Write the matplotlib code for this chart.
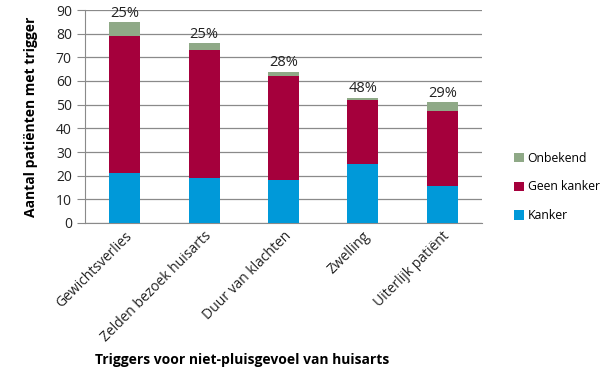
import numpy as np
import matplotlib
matplotlib.use('Agg')
import matplotlib.pyplot as plt

plt.rcParams['font.family'] = ['Open Sans', 'DejaVu Sans']

triggers = ['Gewichtsverlies', 'Zelden bezoek huisarts', 'Duur van klachten', 'Zwelling', 'Uiterlijk patiënt']
kanker = [21, 19, 18, 25, 15.5]
geen_kanker = [58, 54, 44, 27, 32]
onbekend = [6, 3, 2, 1, 3.5]
pct_labels = ['25%', '25%', '28%', '48%', '29%']

c_kanker = '#0099d9'
c_geen = '#a5003c'
c_onb = '#8fa987'

fig = plt.figure(figsize=(6, 3.72), dpi=100)
ax = fig.add_axes([85/600, 1 - 223/372, 397/600, 213/372])

x = np.arange(len(triggers))
w = 0.39
b1 = ax.bar(x, kanker, w, color=c_kanker, label='Kanker', zorder=3)
bottom2 = np.array(kanker)
b2 = ax.bar(x, geen_kanker, w, bottom=bottom2, color=c_geen, label='Geen kanker', zorder=3)
bottom3 = bottom2 + np.array(geen_kanker)
b3 = ax.bar(x, onbekend, w, bottom=bottom3, color=c_onb, label='Onbekend', zorder=3)

totals = bottom3 + np.array(onbekend)
for xi, t, lab in zip(x, totals, pct_labels):
    ax.text(xi, t + 0.5, lab, ha='center', va='bottom', fontsize=10.5, color='#222222')

ax.set_xlim(-0.5, len(triggers) - 0.5)
ax.set_ylim(0, 90)
ax.set_yticks(range(0, 91, 10))
ax.yaxis.grid(True, color='#8a8a8a', linewidth=0.9, zorder=0)
for s in ['top', 'right']:
    ax.spines[s].set_visible(False)
ax.spines['left'].set_color('#8a8a8a')
ax.spines['bottom'].set_color('#8a8a8a')
ax.tick_params(axis='y', length=6, color='#8a8a8a', labelsize=10, labelcolor='#222222')
ax.tick_params(axis='x', length=0, labelsize=10, labelcolor='#222222', pad=4)
ax.set_xticks(x)
ax.set_xticklabels(triggers, rotation=45, ha='right', rotation_mode='anchor')

ax.set_ylabel('Aantal patiënten met trigger', fontsize=10, fontweight='bold')
ax.yaxis.set_label_coords(-0.118, 0.5)
fig.text(242/600, 1 - 360/372, 'Triggers voor niet-pluisgevoel van huisarts',
         ha='center', va='center', fontsize=10, fontweight='bold')

ax.legend(handles=[b3, b2, b1], labels=['Onbekend', 'Geen kanker', 'Kanker'],
          loc='center left', bbox_to_anchor=(508/600, 1 - 187/372), bbox_transform=fig.transFigure,
          frameon=False, fontsize=8.8, handlelength=0.8, handleheight=0.8,
          handletextpad=0.3, labelspacing=1.3, borderpad=0)

fig.savefig('out.png', dpi=100)
